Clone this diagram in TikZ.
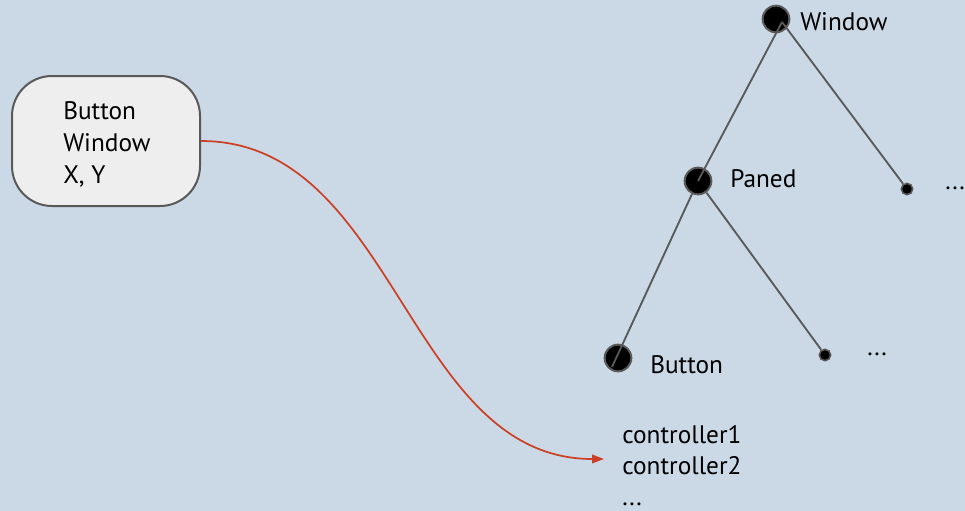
\documentclass[tikz,border=0pt]{standalone}
\usepackage{fontspec}
\setmainfont{PT Sans}
\usetikzlibrary{arrows.meta}
\definecolor{bg}{RGB}{203,217,230}
\definecolor{edge}{RGB}{89,89,89}
\definecolor{boxfill}{RGB}{238,238,238}
\definecolor{redline}{RGB}{204,65,37}
\tikzset{
  big/.style={circle,fill=black,draw=edge,line width=1.5pt,minimum size=20pt,inner sep=0pt},
  small/.style={circle,fill=black,draw=edge,line width=1.2pt,minimum size=8.5pt,inner sep=0pt},
  lbl/.style={anchor=base west,inner sep=0pt,font=\fontsize{19}{24}\selectfont},
  treeline/.style={draw=edge,line width=1.4pt},
}
\begin{document}
\begin{tikzpicture}[x=0.75pt,y=-0.75pt]
\fill[bg] (0,0) rectangle (965,511);
\useasboundingbox (0,0) rectangle (965,511);
% box
\node[draw=edge,fill=boxfill,line width=1.5pt,rounded corners=30pt,minimum width=141pt,minimum height=97.5pt,inner sep=0pt] (box) at (106,141) {};
\node[lbl] (b1) at (63,119) {Button};
\node[lbl] (b2) at (63,151) {Window};
\node[lbl] (b3) at (63,183) {X, Y};
% tree nodes
\node[big] (win) at (776,19) {};
\node[big] (pan) at (698,181) {};
\node[big] (btn) at (618,358) {};
\node[small] (d1) at (907,189) {};
\node[small] (d2) at (825,355) {};
\coordinate (winc) at (782,22);
\coordinate (btnc) at (612,367);
\draw[treeline] (winc) -- (pan.center);
\draw[treeline] (winc) -- (d1);
\draw[treeline] (pan) -- (btnc);
\draw[treeline] (pan) -- (d2);
% labels
\node[lbl] (wintxt) at (800,30) {Window};
\node[lbl] (pantxt) at (730,187) {Paned};
\node[lbl] (btntxt) at (650,373) {Button};
\node[lbl] (dots1) at (945,189) {...};
\node[lbl] (dots2) at (867,355) {...};
\node[lbl] (c1) at (622,443) {controller1};
\node[lbl] (c2) at (622,474) {controller2};
\node[lbl] (c3) at (622,505) {...};
\coordinate (arrowend) at (604,459);
\draw[redline,line width=1.3pt,-{Triangle[length=9pt,width=6.5pt]}] (box.east) .. controls (396,141) and (407,459) .. (arrowend);
\end{tikzpicture}
\end{document}
